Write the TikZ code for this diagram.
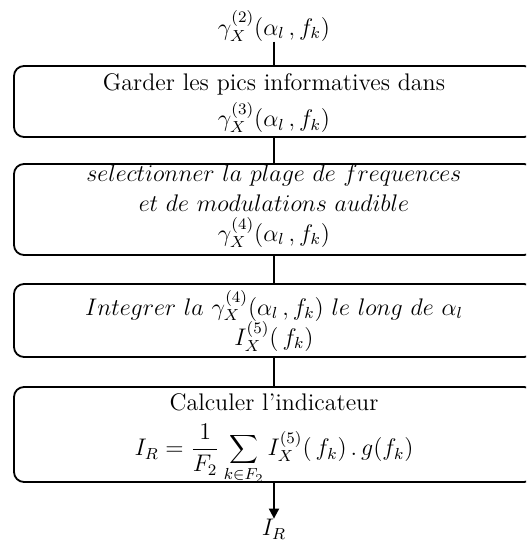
\documentclass[tikz,border=0pt]{standalone}
\usetikzlibrary{arrows.meta}
\begin{document}
\begin{tikzpicture}[x=0.5pt,y=-0.5pt,
  stepbox/.style={draw, rounded corners=5pt, line width=0.9pt, minimum width=260pt, inner sep=0pt},
  txt/.style={align=center, inner sep=0pt, font=\fontsize{12}{15}\selectfont},
  conn/.style={line width=0.9pt}]
\useasboundingbox (0,0) rectangle (526,542);
\clip (0,0) rectangle (526,542);
\node[txt] (in) at (274,26) {$\gamma_X^{(2)}(\alpha_l\,, f_k)$};
\node[stepbox, minimum height=35.5pt] (b1) at (274,101.5) {};
\node[stepbox, minimum height=45.5pt] (b2) at (274,209.5) {};
\node[stepbox, minimum height=36.5pt] (b3) at (274,320.5) {};
\node[stepbox, minimum height=47.5pt] (b4) at (274,434.5) {};
\node[txt] (t1) at (274,103) {Garder les pics informatives dans\\[3pt] $\gamma_X^{(3)}(\alpha_l\,, f_k)$};
\node[txt] (t2) at (274,206) {$selectionner\ la\ plage\ de\ frequences$\\ $et\ de\ modulations\ audible$\\ $\gamma_X^{(4)}(\alpha_l\,, f_k)$};
\node[txt] (t3) at (274,321) {$Integrer\ la\ \gamma_X^{(4)}(\alpha_l\,, f_k)\ le\ long\ de\ \alpha_l$\\[-1pt] $I_X^{(5)}(\,f_k)$};
\node[txt] (t4a) at (274,402) {Calculer l'indicateur};
\node[txt] (t4b) at (274,454) {$\displaystyle I_R=\frac{1}{F_2}\sum_{k\in F_2} I_X^{(5)}(\,f_k)\,.\,g(f_k)$};
\node[txt] (out) at (274,529) {$I_R$};
\draw[conn] (in.south) -- (b1.north);
\draw[conn] (b1.south) -- (b2.north);
\draw[conn] (b2.south) -- (b3.north);
\draw[conn] (b3.south) -- (b4.north);
\draw[conn, -{Triangle[length=5pt,width=5pt]}] (b4.south) -- (out.north);
\end{tikzpicture}
\end{document}
